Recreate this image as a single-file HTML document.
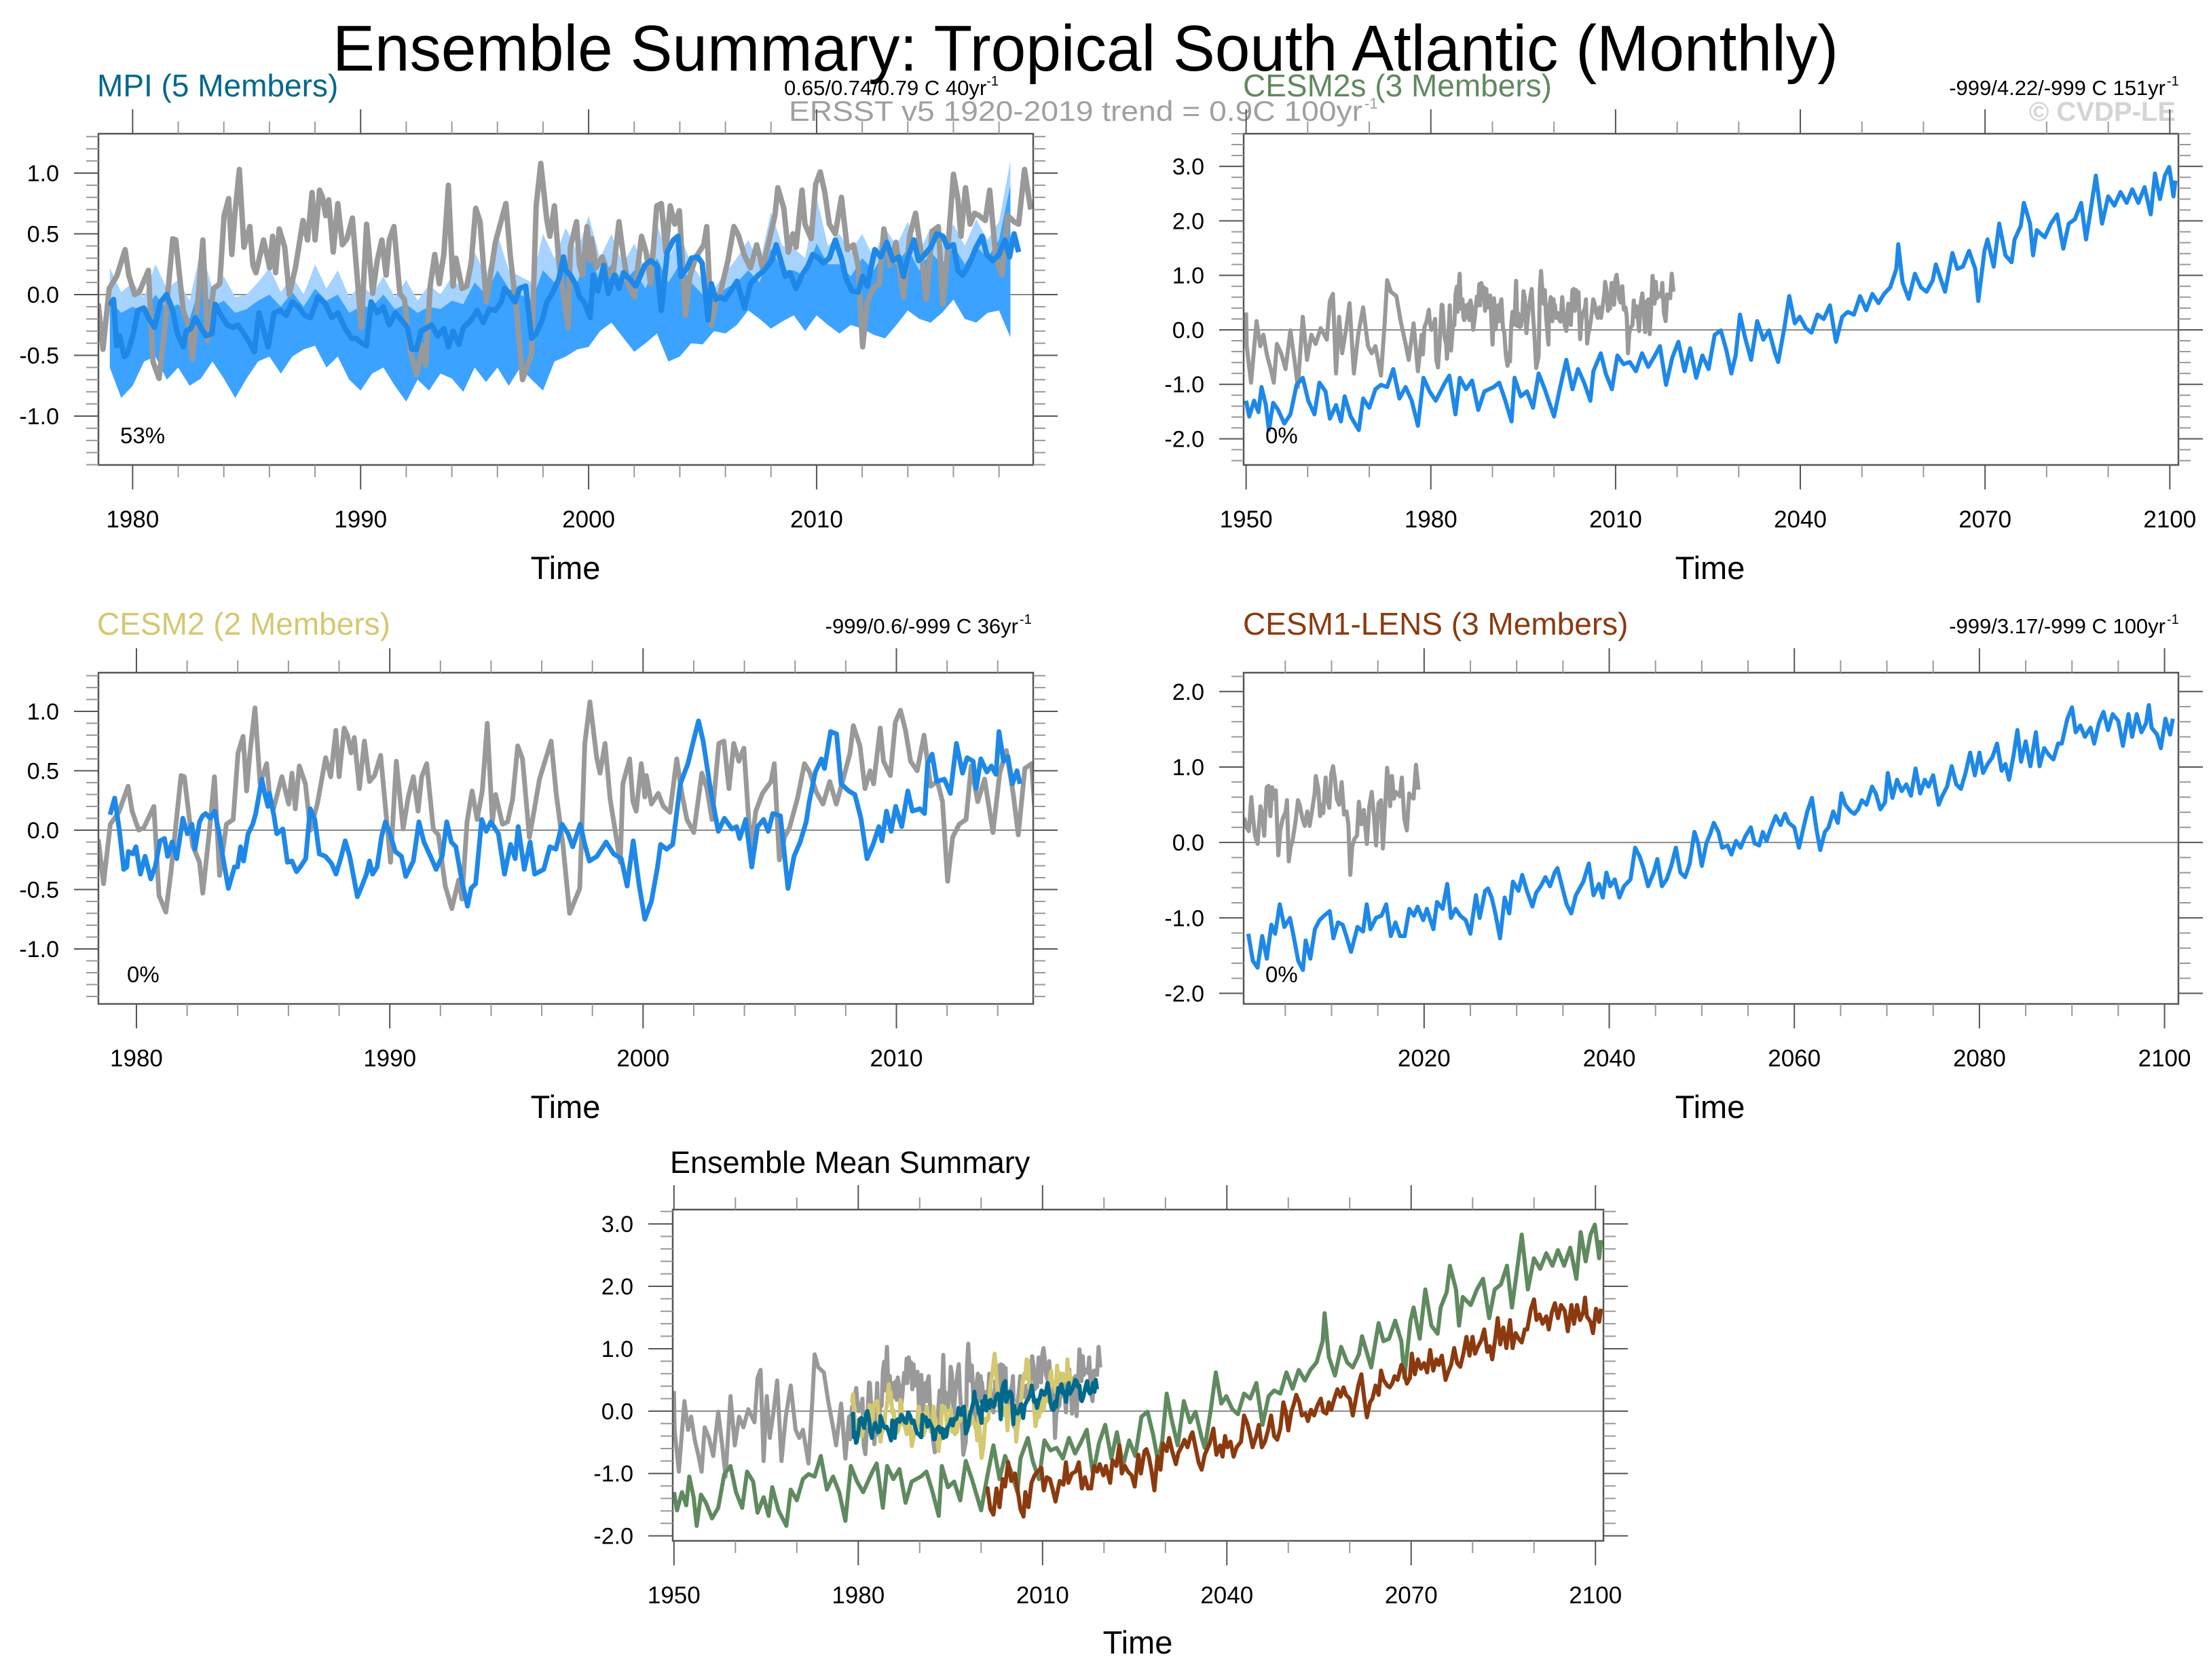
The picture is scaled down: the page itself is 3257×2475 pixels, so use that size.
<!DOCTYPE html>
<html><head><meta charset="utf-8"><title>Ensemble Summary: Tropical South Atlantic (Monthly)</title>
<style>
html,body{margin:0;padding:0;background:#fff;}
svg{display:block;font-family:"Liberation Sans",Arial,sans-serif;}
</style></head>
<body>
<svg id="chart" xmlns="http://www.w3.org/2000/svg" width="3257" height="2475" viewBox="0 0 3257 2475">
<rect x="0" y="0" width="3257" height="2475" fill="#fff"/>
<text x="1599" y="104" font-size="96" text-anchor="middle" textLength="2218" lengthAdjust="spacingAndGlyphs" fill="#000">Ensemble Summary: Tropical South Atlantic (Monthly)</text>
<text x="143" y="142" font-size="46" fill="#00688b">MPI (5 Members)</text>
<text x="1155" y="140" font-size="31" fill="#000">0.65/0.74/0.79 C 40yr<tspan font-size="20" dy="-14">-1</tspan></text>
<text x="1162" y="178" font-size="42" fill="#a0a0a0" textLength="845" lengthAdjust="spacingAndGlyphs">ERSST v5 1920-2019 trend = 0.9C 100yr</text>
<text x="2010" y="160" font-size="22" fill="#a0a0a0">-1</text>
<text x="1831" y="142" font-size="46" fill="#5f8a5f">CESM2s (3 Members)</text>
<text x="3190" y="140" font-size="31" text-anchor="end" fill="#000">-999/4.22/-999 C 151yr</text>
<text x="3192" y="126" font-size="20" fill="#000">-1</text>
<text x="3205" y="178" font-size="40" font-weight="bold" text-anchor="end" fill="#d4d4d4">© CVDP-LE</text>
<text x="143" y="935" font-size="46" fill="#d4c870">CESM2 (2 Members)</text>
<text x="1500" y="933" font-size="31" text-anchor="end" fill="#000">-999/0.6/-999 C 36yr</text>
<text x="1502" y="919" font-size="20" fill="#000">-1</text>
<text x="1831" y="935" font-size="46" fill="#8b3a0f">CESM1-LENS (3 Members)</text>
<text x="3190" y="933" font-size="31" text-anchor="end" fill="#000">-999/3.17/-999 C 100yr</text>
<text x="3192" y="919" font-size="20" fill="#000">-1</text>
<text x="987" y="1728" font-size="45" fill="#000">Ensemble Mean Summary</text>
</svg>
<script>
// ---------- DATA ----------
const obsYear = [1950.0,1950.1,1950.8,1951.7,1952.3,1952.8,1953.4,1954.0,1954.5,1955.0,1955.7,1956.4,1957.2,1957.9,1958.4,1959.2,1959.9,1960.6,1961.3,1962.1,1963.1,1963.6,1964.1,1964.6,1965.1,1965.6,1966.2,1966.8,1967.5,1968.2,1969.0,1969.8,1970.4,1971.0,1971.9,1972.5,1972.9,1973.5,1974.4,1975.1,1975.9,1976.4,1977.2,1977.9,
1978.50,1978.70,1978.97,1979.30,1979.67,1979.83,1980.09,1980.29,1980.69,1980.89,1981.16,1981.36,1981.76,1981.89,1982.22,1982.49,1982.62,1982.89,1983.08,1983.28,1983.55,1983.82,1984.01,1984.21,1984.35,1984.48,1984.68,1984.88,1985.14,1985.28,1985.41,1985.74,1986.01,1986.14,1986.27,1986.43,1986.67,1986.87,1987.14,1987.47,1987.67,1987.87,1988.00,1988.20,1988.33,1988.47,1988.60,1988.80,1989.00,1989.20,1989.40,1989.64,1990.03,1990.26,1990.53,1990.73,1990.93,1991.12,1991.26,1991.46,1991.72,1991.92,1992.19,1992.45,1992.72,1992.85,1993.05,1993.25,1993.45,1993.65,1993.85,1994.05,1994.18,1994.45,1994.65,1994.85,1995.05,1995.24,1995.51,1995.64,1995.91,1996.37,1996.57,1996.84,1997.10,1997.50,1997.70,1997.90,1998.17,1998.30,1998.50,1998.70,1999.10,
1999.20,1999.47,1999.60,1999.73,1999.93,2000.07,2000.13,2000.33,2000.60,2000.80,2001.06,2001.33,2001.53,2001.73,2002.00,2002.32,2002.52,2002.72,2002.99,2003.19,2003.39,2003.58,2003.78,2003.98,2004.25,2004.45,2004.71,2005.05,2005.18,2005.38,2005.58,2005.78,2006.11,2006.37,2006.57,2006.84,2007.10,2007.37,2007.63,2007.90,2008.17,2008.30,2008.56,2008.76,2008.96,2009.10,2009.36,2009.49,2009.76,2009.96,2010.16,2010.36,2010.56,2010.82,2011.09,2011.35,2011.62,2011.82,2012.02,2012.22,2012.48,2012.75,2012.95,2013.21,2013.48,2013.81,2014.08,2014.34,2014.61,2014.81,2015.07,2015.34,2015.54,2015.74,2016.00,2016.20,2016.33,2016.53,2016.73,2016.93,2017.13,2017.40,2017.59,2017.86,2018.13,2018.39,2018.66,2018.86,2019.12,2019.39];
const obsVal = [0.32,-0.30,-0.97,0.16,-0.30,-0.09,-0.47,-0.72,-0.97,-0.26,-0.43,-0.72,-0.01,-0.59,-1.05,0.24,-0.55,-0.09,-0.26,0.03,-0.18,0.53,0.66,-0.80,0.24,-0.43,-0.01,0.49,-0.80,-0.09,0.41,-0.30,-0.43,-0.30,-0.84,0.12,0.91,0.70,0.62,0.16,-0.26,-0.55,0.12,-0.76,
-0.09,-0.45,0.05,0.15,0.37,0.16,0.00,0.02,0.20,-0.55,-0.69,-0.36,0.46,0.45,-0.13,-0.27,-0.53,0.01,0.45,-0.38,0.05,0.09,0.65,0.79,0.33,0.65,1.03,0.39,0.56,0.24,0.18,0.45,0.22,0.48,0.18,0.54,0.39,0.00,0.22,0.61,0.45,0.84,0.45,0.86,0.80,0.65,0.78,0.35,0.75,0.41,0.46,0.63,-0.27,0.58,0.01,0.28,0.45,0.16,0.45,0.56,0.01,-0.04,-0.47,-0.66,-0.42,-0.58,0.07,0.33,0.09,0.33,0.90,0.07,0.30,0.05,0.07,0.26,0.71,0.60,-0.06,0.09,0.43,0.75,0.31,-0.13,-0.70,-0.49,0.73,1.08,0.61,0.48,0.73,0.26,-0.27,
0.39,0.60,0.24,0.16,0.56,0.28,0.46,0.22,0.31,0.20,0.15,0.60,0.31,0.09,-0.02,0.48,0.35,0.09,0.73,0.75,0.35,0.73,0.58,0.69,-0.17,0.16,0.31,0.41,0.56,-0.25,-0.06,0.02,0.28,0.56,0.49,0.32,0.22,0.41,0.22,0.43,0.65,0.88,0.71,0.35,0.50,0.39,0.86,0.58,0.46,0.91,1.01,0.84,0.58,0.50,0.80,0.37,0.41,0.24,-0.43,-0.06,0.05,0.09,0.54,0.24,0.43,-0.02,0.48,0.67,0.31,-0.04,0.52,0.56,-0.08,0.34,0.99,0.78,0.48,0.88,0.58,0.67,0.65,0.61,0.86,0.31,0.16,0.65,0.60,0.58,1.03,0.70];

const mpiYear = [1979.00,1979.16,1979.30,1979.43,1979.63,1979.76,1980.03,1980.23,1980.49,1980.69,1980.96,1981.23,1981.49,1981.76,1981.96,1982.22,1982.35,1982.55,1982.75,1983.02,1983.22,1983.48,1983.62,1983.88,1984.15,1984.41,1984.61,1984.88,1985.14,1985.34,1985.54,1985.94,1986.21,1986.47,1986.74,1987.00,1987.27,1987.54,1987.80,1988.13,1988.47,1988.73,1989.00,1989.33,1989.60,1989.80,1990.06,1990.26,1990.46,1990.73,1990.99,1991.26,1991.52,1991.79,1992.05,1992.25,1992.45,1992.65,1992.85,1993.12,1993.38,1993.65,1993.85,1994.05,1994.31,1994.51,1994.85,1995.11,1995.38,1995.64,1995.91,1996.17,1996.31,1996.51,1996.77,1996.97,1997.24,1997.50,1997.70,1997.97,1998.17,1998.43,1998.70,1998.90,
1999.00,1999.20,1999.47,1999.60,1999.80,2000.07,2000.20,2000.40,2000.66,2000.86,2001.13,2001.33,2001.53,2001.79,2002.06,2002.26,2002.46,2002.72,2002.99,2003.19,2003.45,2003.72,2003.92,2004.05,2004.32,2004.51,2004.78,2004.98,2005.24,2005.38,2005.58,2005.78,2005.97,2006.24,2006.51,2006.84,2007.10,2007.44,2007.70,2008.03,2008.23,2008.43,2008.63,2008.83,2009.10,2009.36,2009.63,2009.83,2010.09,2010.29,2010.56,2010.82,2011.09,2011.29,2011.55,2011.82,2012.02,2012.22,2012.55,2012.81,2013.08,2013.35,2013.61,2013.81,2014.01,2014.27,2014.47,2014.74,2015.01,2015.27,2015.54,2015.74,2016.00,2016.20,2016.40,2016.67,2017.00,2017.26,2017.46,2017.73,2018.00,2018.26,2018.46,2018.66,2018.86];
const mpiMean = [-0.09,-0.04,-0.42,-0.34,-0.51,-0.49,-0.32,-0.13,-0.11,-0.19,-0.27,-0.06,0.00,-0.13,-0.32,-0.43,-0.30,-0.28,-0.19,-0.28,-0.34,-0.32,-0.08,-0.17,-0.25,-0.27,-0.25,-0.32,-0.40,-0.47,-0.15,-0.43,-0.15,-0.13,-0.17,-0.06,-0.10,-0.17,-0.19,-0.02,-0.08,-0.19,-0.15,-0.28,-0.36,-0.36,-0.40,-0.42,-0.06,-0.15,-0.10,-0.25,-0.15,-0.21,-0.27,-0.45,-0.45,-0.30,-0.28,-0.25,-0.34,-0.28,-0.43,-0.30,-0.41,-0.27,-0.21,-0.13,-0.23,-0.12,-0.13,-0.06,0.05,0.01,-0.06,0.05,0.07,-0.36,-0.32,-0.21,-0.06,0.02,0.13,0.31,
0.20,0.16,0.07,-0.02,-0.06,-0.19,0.16,0.03,0.24,0.01,0.16,0.05,0.18,0.13,0.07,0.15,0.24,0.28,0.24,-0.13,0.35,0.45,0.48,0.15,0.22,0.30,0.31,0.26,-0.21,0.09,-0.04,-0.02,-0.04,0.03,0.11,-0.11,0.09,0.16,0.20,0.28,0.41,0.28,0.15,0.18,0.05,0.16,0.24,0.33,0.30,0.26,0.30,0.45,0.30,0.13,0.03,0.02,0.15,0.07,0.37,0.31,0.43,0.28,0.31,0.15,0.31,0.45,0.28,0.33,0.39,0.50,0.48,0.39,0.41,0.20,0.16,0.24,0.39,0.48,0.33,0.28,0.33,0.45,0.31,0.50,0.35];
const mpiBandYear = [1979,1979.5,1980,1980.5,1981,1981.5,1982,1982.5,1983,1983.5,1984,1984.5,1985,1985.5,1986,1986.5,1987,1987.5,1988,1988.5,1989,1989.5,1990,1990.5,1991,1991.5,1992,1992.5,1993,1993.5,1994,1994.5,1995,1995.5,1996,1996.5,1997,1997.5,1998,1998.5,1999,1999.5,2000,2000.5,2001,2001.5,2002,2002.5,2003,2003.5,2004,2004.5,2005,2005.5,2006,2006.5,2007,2007.5,2008,2008.5,2009,2009.5,2010,2010.5,2011,2011.5,2012,2012.5,2013,2013.5,2014,2014.5,2015,2015.5,2016,2016.5,2017,2017.5,2018,2018.5];
const mpiMax = [0.22,0.02,0.10,-0.02,0.25,0.05,0.12,-0.05,0.38,0.05,0.15,-0.02,0.0,0.10,0.22,0.02,0.15,0.00,0.25,0.05,0.20,-0.02,0.08,0.00,0.15,-0.02,0.12,-0.05,0.08,0.00,0.15,0.02,0.35,0.15,0.50,0.20,0.15,0.10,0.50,0.30,0.55,0.35,0.65,0.30,0.50,0.25,0.42,0.20,0.58,0.30,0.50,0.25,0.12,0.05,0.18,0.30,0.45,0.25,0.68,0.40,0.38,0.30,0.80,0.40,0.50,0.35,0.50,0.30,0.55,0.40,0.60,0.35,0.55,0.40,0.58,0.40,0.62,0.45,0.60,1.10];
const mpiMidTop = [-0.05,-0.15,-0.10,-0.15,0.00,-0.12,-0.08,-0.20,0.10,-0.10,-0.05,-0.15,-0.12,-0.05,0.00,-0.10,0.02,-0.10,0.05,-0.05,0.00,-0.15,-0.10,-0.10,0.00,-0.12,-0.08,-0.15,-0.10,-0.12,-0.05,-0.08,0.10,0.00,0.20,0.05,0.00,-0.05,0.20,0.10,0.25,0.10,0.35,0.10,0.25,0.10,0.20,0.05,0.30,0.10,0.25,0.10,0.00,-0.05,0.05,0.10,0.20,0.10,0.38,0.20,0.20,0.15,0.42,0.25,0.25,0.15,0.30,0.20,0.35,0.25,0.38,0.20,0.35,0.25,0.40,0.25,0.40,0.30,0.45,0.90];
const mpiMin = [-0.60,-0.85,-0.75,-0.55,-0.51,-0.70,-0.60,-0.75,-0.69,-0.55,-0.69,-0.85,-0.69,-0.55,-0.51,-0.65,-0.51,-0.45,-0.42,-0.60,-0.51,-0.70,-0.79,-0.65,-0.60,-0.75,-0.88,-0.70,-0.79,-0.65,-0.69,-0.80,-0.60,-0.72,-0.60,-0.75,-0.60,-0.70,-0.79,-0.55,-0.51,-0.45,-0.43,-0.30,-0.23,-0.35,-0.47,-0.40,-0.32,-0.55,-0.51,-0.40,-0.41,-0.30,-0.32,-0.25,-0.13,-0.20,-0.28,-0.22,-0.17,-0.30,-0.17,-0.25,-0.32,-0.25,-0.28,-0.33,-0.36,-0.25,-0.13,-0.20,-0.23,-0.15,-0.04,-0.20,-0.23,-0.15,-0.13,-0.35];

const cesm2Year = [1978.96,1979.14,1979.32,1979.50,1979.62,1979.68,1979.86,1979.98,1980.16,1980.34,1980.57,1980.75,1980.93,1981.11,1981.23,1981.41,1981.59,1981.83,1982.01,1982.19,1982.31,1982.49,1982.61,1982.73,1982.91,1983.09,1983.27,1983.39,1983.63,1983.87,1983.99,1984.11,1984.23,1984.41,1984.59,1984.71,1984.95,1985.07,1985.19,1985.25,1985.43,1985.54,1985.78,1985.96,1986.14,1986.32,1986.50,1986.68,1986.86,1987.04,1987.22,1987.46,1987.70,1987.88,1988.06,1988.24,1988.42,1988.72,1988.90,1989.08,1989.20,1989.32,1989.50,1989.68,1989.83,1989.98,1990.22,1990.46,1990.63,1990.93,1991.15,1991.35,1991.65,1991.83,1992.07,1992.25,1992.43,1992.61,1992.85,1993.07,1993.21,1993.39,1993.63,1993.81,1993.99,1994.29,1994.53,1994.77,1994.95,1995.07,1995.31,1995.54,1995.72,1996.08,1996.32,1996.56,1996.80,
1997.04,1997.22,1997.52,1997.70,1997.88,1998.18,1998.54,1998.84,1999.14,1999.37,1999.61,1999.85,2000.07,2000.33,2000.57,2000.69,2000.93,2001.17,2001.47,2001.77,2002.01,2002.19,2002.37,2002.67,2002.97,2003.21,2003.51,2003.69,2003.81,2004.05,2004.29,2004.52,2004.76,2004.94,2005.12,2005.42,2005.72,2005.96,2006.20,2006.44,2006.56,2006.80,2007.04,2007.16,2007.40,2007.64,2007.82,2008.12,2008.36,2008.60,2008.84,2009.08,2009.31,2009.43,2009.61,2009.79,2009.97,2010.21,2010.45,2010.63,2010.93,2011.11,2011.23,2011.41,2011.59,2011.89,2012.13,2012.37,2012.61,2012.79,2013.03,2013.15,2013.33,2013.57,2013.75,2013.93,2014.05,2014.23,2014.40,2014.58,2014.76,2014.88];
const cesm2Val = [0.13,0.27,0.01,-0.33,-0.31,-0.18,-0.20,-0.14,-0.37,-0.22,-0.41,-0.30,-0.09,-0.07,-0.22,-0.10,-0.24,0.10,-0.03,0.05,-0.16,0.07,0.12,0.14,0.10,0.16,-0.03,-0.20,-0.49,-0.31,-0.31,-0.14,-0.26,-0.03,0.05,0.14,0.43,0.30,0.20,0.31,0.12,-0.03,0.01,-0.27,-0.26,-0.35,-0.30,-0.24,0.18,0.09,-0.20,-0.22,-0.28,-0.37,-0.24,-0.09,-0.22,-0.56,-0.47,-0.37,-0.26,-0.37,-0.31,-0.05,0.07,-0.01,-0.18,-0.22,-0.39,-0.26,0.07,-0.10,-0.24,-0.33,-0.22,0.07,-0.10,-0.14,-0.43,-0.64,-0.49,-0.45,0.09,-0.01,0.07,-0.03,-0.37,-0.12,-0.24,0.03,-0.33,-0.10,-0.37,-0.33,-0.14,-0.16,0.05,
-0.03,-0.14,0.05,-0.12,-0.26,-0.22,-0.10,-0.20,-0.24,-0.47,-0.09,-0.47,-0.75,-0.60,-0.31,-0.12,-0.16,-0.12,0.39,0.56,0.77,0.92,0.75,0.33,-0.01,0.10,0.01,0.03,-0.07,0.09,-0.31,0.03,0.09,-0.01,0.14,0.12,-0.49,-0.22,-0.10,0.07,0.24,0.49,0.60,0.52,0.83,0.81,0.39,0.33,0.30,0.10,-0.24,-0.12,0.03,-0.09,0.16,-0.01,0.20,0.03,0.33,0.16,0.18,0.14,0.56,0.64,0.41,0.43,0.31,0.73,0.48,0.61,0.58,0.35,0.60,0.49,0.54,0.47,0.83,0.58,0.62,0.39,0.50,0.39];

const cesm2sYear = [1950.0,1950.5,1951.3,1952.0,1952.5,1953.2,1953.7,1954.4,1955.2,1956.2,1957.2,1958.2,1959.2,1960.1,1961.1,1961.9,1962.9,1963.6,1964.6,1965.4,1966.0,1967.0,1968.3,1969.0,1970.0,1971.0,1971.9,1972.9,1973.9,1974.9,1975.9,1976.9,1977.9,1978.8,1979.8,1980.8,1982.3,1983.0,1984.0,1984.7,1985.7,1986.7,1987.7,1988.7,1990.2,1991.1,1992.1,1993.1,1993.6,1994.6,1995.6,1996.6,1997.5,1998.5,2000.0,2001.0,2002.0,2003.0,2003.9,2004.9,2005.9,2006.4,2007.6,2008.4,2009.4,2010.3,2011.3,2012.3,2013.3,2014.3,2015.3,2016.2,2017.2,2018.2,2019.2,2020.2,2021.2,2022.1,2023.1,2024.1,2025.1,2026.1,2027.1,2028.0,2028.8,2029.5,2030.2,2031.0,2032.0,2033.0,2034.0,2034.9,2035.9,2036.4,2037.4,2038.2,2039.1,2039.9,2040.9,2041.8,2042.8,2043.8,2044.8,2045.8,2046.8,2047.7,2048.7,2049.7,2050.7,2051.7,2052.7,2053.6,2054.6,2055.6,2055.9,2056.6,2057.6,2058.6,2059.6,2060.5,2061.5,2062.0,2063.5,2064.7,2065.5,2066.4,2067.4,2068.4,2068.9,2069.9,2070.4,2071.4,2072.3,2073.3,2074.3,2074.8,2075.8,2076.3,2077.3,2077.8,2078.4,2079.7,2080.7,2081.7,2082.7,2083.6,2084.6,2085.6,2086.4,2087.1,2088.0,2089.0,2090.0,2091.0,2092.0,2093.0,2093.9,2094.9,2095.9,2096.9,2097.6,2098.4,2099.2,2099.9,2100.6,2100.9];
const cesm2sVal = [-1.30,-1.59,-1.30,-1.51,-1.05,-1.38,-1.84,-1.34,-1.47,-1.72,-1.55,-1.01,-0.88,-1.30,-1.55,-0.97,-1.13,-1.63,-1.38,-1.68,-1.22,-1.59,-1.84,-1.26,-1.43,-1.09,-1.01,-1.05,-0.72,-1.26,-1.05,-1.30,-1.76,-0.88,-1.13,-1.30,-0.97,-0.84,-1.55,-0.88,-1.09,-0.93,-1.47,-1.13,-1.05,-0.97,-1.30,-1.68,-0.88,-1.22,-1.13,-1.43,-0.80,-1.09,-1.59,-1.05,-0.55,-1.09,-0.72,-0.97,-1.30,-0.76,-0.43,-0.80,-1.09,-0.47,-0.63,-0.59,-0.76,-0.43,-0.68,-0.51,-0.30,-1.01,-0.51,-0.22,-0.76,-0.34,-0.88,-0.47,-0.72,-0.09,-0.01,-0.38,-0.80,-0.47,0.28,-0.13,-0.55,0.16,-0.18,-0.01,-0.43,-0.59,0.03,0.62,0.12,0.24,0.03,-0.05,0.28,0.20,0.45,-0.22,0.24,0.33,0.28,0.62,0.36,0.66,0.49,0.66,0.78,1.12,1.57,0.87,0.57,1.03,0.78,0.70,0.91,1.20,0.70,1.41,1.12,1.16,1.45,1.12,0.53,1.45,1.66,1.16,1.95,1.37,1.24,1.66,1.91,2.33,1.95,1.37,1.83,1.70,1.95,2.12,1.49,1.95,2.03,2.33,1.66,2.16,2.83,1.95,2.45,2.28,2.53,2.33,2.58,2.33,2.62,2.12,2.87,2.40,2.83,2.99,2.45,2.74];

const lensYear = [2001.0,2001.5,2002.0,2002.5,2003.0,2003.5,2003.9,2004.4,2004.9,2005.5,2005.9,2006.4,2006.9,2007.2,2007.7,2008.2,2008.7,2009.2,2009.8,2010.2,2010.7,2011.2,2011.6,2012.1,2012.8,2013.4,2013.8,2014.2,2014.8,2015.4,2015.9,2016.4,2016.9,2017.4,2017.9,2018.4,2018.9,2019.3,2019.9,2020.3,2021.0,2021.4,2022.0,2022.5,2022.9,2023.4,2023.9,2024.5,2025.0,2025.6,2026.0,2026.6,2026.9,2027.3,2027.7,2028.2,2028.7,2029.2,2029.6,2030.2,2030.6,2031.1,2031.7,2032.1,2032.6,2033.1,2033.6,2034.1,2034.4,2034.9,2035.4,2035.9,2036.4,2036.8,2037.2,2037.8,2038.3,2038.9,2039.3,2039.7,2040.1,2040.6,2041.1,2041.6,2042.3,2042.8,2043.3,2043.7,2044.2,2044.8,2045.2,2045.7,2046.2,2046.7,2047.2,2047.7,2048.2,2048.7,2049.2,2049.6,2050.0,2050.5,2050.9,2051.3,2051.8,2052.2,2052.8,2053.2,2053.7,2054.2,2054.7,2055.3,2055.7,2056.2,2056.6,2057.0,2057.5,2058.0,2058.5,2059.0,2059.4,2060.0,2060.5,2061.0,2061.4,2061.9,2062.4,2062.8,2063.3,2063.7,2064.2,2064.7,2065.1,2065.5,2066.1,2066.5,2066.9,2067.3,2067.8,2068.4,2068.8,2069.3,2069.8,2070.1,2070.6,2071.1,2071.6,2072.1,2072.6,2073.1,2073.6,2074.1,2074.5,2075.0,2075.6,2076.0,2076.5,2077.0,2077.5,2078.0,2078.5,2079.0,2079.5,2080.0,2080.4,2080.9,2081.4,2081.9,2082.4,2082.8,2083.2,2083.7,2084.1,2084.5,2085.0,2085.5,2086.1,2086.5,2087.0,2087.5,2088.0,2088.5,2088.9,2089.5,2090.0,2090.4,2090.9,2091.4,2092.0,2092.4,2092.9,2093.4,2093.9,2094.4,2095.0,2095.5,2096.1,2096.5,2097.0,2097.5,2098.0,2098.3,2098.6,2099.2,2099.6,2100.1,2100.6,2100.9];
const lensVal = [-1.21,-1.57,-1.66,-1.24,-1.54,-1.09,-1.21,-0.82,-1.12,-1.00,-1.24,-1.57,-1.69,-1.30,-1.54,-1.15,-1.03,-0.97,-0.91,-1.27,-1.06,-1.09,-1.24,-1.45,-1.12,-1.18,-0.82,-1.15,-1.00,-0.97,-0.82,-1.24,-1.06,-1.24,-1.24,-0.88,-0.97,-0.85,-1.03,-0.88,-1.15,-0.79,-0.88,-0.55,-1.00,-0.88,-0.97,-1.03,-1.21,-0.70,-1.00,-0.64,-0.61,-0.73,-0.94,-1.27,-0.73,-0.94,-0.52,-0.64,-0.43,-0.64,-0.85,-0.67,-0.58,-0.46,-0.58,-0.40,-0.34,-0.58,-0.82,-0.94,-0.70,-0.61,-0.52,-0.28,-0.70,-0.55,-0.73,-0.40,-0.58,-0.49,-0.73,-0.58,-0.49,-0.07,-0.19,-0.34,-0.58,-0.40,-0.22,-0.58,-0.49,-0.31,-0.07,-0.40,-0.46,-0.28,0.14,-0.01,-0.31,-0.01,0.11,0.26,0.14,-0.07,-0.04,-0.16,0.02,-0.07,0.08,0.20,-0.01,-0.04,0.14,0.02,0.20,0.35,0.23,0.38,0.26,0.20,-0.07,0.20,0.41,0.59,0.17,-0.10,0.14,0.20,0.41,0.26,0.65,0.50,0.41,0.38,0.44,0.56,0.50,0.74,0.65,0.44,0.53,0.92,0.59,0.83,0.68,0.77,0.62,0.98,0.65,0.83,0.74,0.89,0.50,0.62,0.74,1.01,0.77,0.71,0.92,1.19,0.89,1.19,0.92,1.04,1.13,1.31,0.95,1.04,0.83,1.16,1.49,1.07,1.34,1.01,1.46,1.01,1.25,1.16,1.10,1.31,1.31,1.64,1.79,1.46,1.55,1.40,1.52,1.31,1.58,1.73,1.49,1.70,1.61,1.28,1.70,1.40,1.70,1.46,1.58,1.82,1.52,1.43,1.25,1.64,1.43,1.64];

// ---------- DRAWING ----------
const NS = 'http://www.w3.org/2000/svg';
const svg = document.getElementById('chart');
function mk(tag, parent) { const e = document.createElementNS(NS, tag); parent.appendChild(e); return e; }

const panels = [
 {key:'mpi', x0:145, x1:1522, y0:197, y1:685, xd:[1978.5,2019.5], yd:[-1.402,1.324], xMaj:10, xMin:2, xStart:1980, yMaj:0.5, yMin:0.1, pct:'53%', timeX:833, timeY:853},
 {key:'cesm2s', x0:1832, x1:3209, y0:197, y1:685, xd:[1949.6,2101.4], yd:[-2.48,3.60], xMaj:30, xMin:10, xStart:1950, yMaj:1, yMin:0.2, pct:'0%', timeX:2519, timeY:853},
 {key:'cesm2', x0:145, x1:1522, y0:991, y1:1479, xd:[1978.5,2015.4], yd:[-1.463,1.326], xMaj:10, xMin:2, xStart:1980, yMaj:0.5, yMin:0.1, pct:'0%', timeX:833, timeY:1647},
 {key:'cesm1-lens', x0:1832, x1:3209, y0:991, y1:1479, xd:[2000.5,2101.5], yd:[-2.14,2.25], xMaj:20, xMin:5, xStart:2020, yMaj:1, yMin:0.2, pct:'0%', timeX:2519, timeY:1647},
 {key:'ensemble-mean', x0:991, x1:2362, y0:1782, y1:2270, xd:[1949.8,2101.3], yd:[-2.08,3.23], xMaj:30, xMin:10, xStart:1950, yMaj:1, yMin:0.2, pct:null, timeX:1676, timeY:2436}
];

function sx(p, v) { return p.x0 + (v - p.xd[0]) / (p.xd[1] - p.xd[0]) * (p.x1 - p.x0); }
function sy(p, v) { return p.y1 - (v - p.yd[0]) / (p.yd[1] - p.yd[0]) * (p.y1 - p.y0); }

function drawAxes(p, g) {
  const ax = mk('g', g);
  
  
  const eps = 1e-6;
  for (let v = Math.ceil((p.yd[0] - eps) / p.yMin) * p.yMin; v <= p.yd[1] + eps; v += p.yMin) {
    const vv = Math.round(v * 100) / 100;
    const isMaj = Math.abs(vv / p.yMaj - Math.round(vv / p.yMaj)) < 1e-6;
    const len = isMaj ? 36 : 18;
    const y = sy(p, vv);
    for (const side of [0, 1]) {
      const t = mk('line', ax);
      
      
      const xb = side ? p.x1 : p.x0;
      t.setAttribute('x1', xb); t.setAttribute('x2', side ? xb + len : xb - len);
      t.setAttribute('y1', y); t.setAttribute('y2', y);
      t.setAttribute('stroke', isMaj ? '#555' : '#999'); t.setAttribute('stroke-width', 2);
    }
    if (isMaj) {
      const lab = mk('text', ax);
      
      
      lab.setAttribute('x', p.x0 - 58); lab.setAttribute('y', y + 12);
      lab.setAttribute('font-size', 34); lab.setAttribute('text-anchor', 'end');
      lab.textContent = vv.toFixed(1);
    }
  }
  const start = p.xStart - Math.floor((p.xStart - p.xd[0]) / p.xMin) * p.xMin;
  for (let v = start; v <= p.xd[1] + eps; v += p.xMin) {
    const isMaj = ((v - p.xStart) % p.xMaj + p.xMaj) % p.xMaj === 0;
    const len = isMaj ? 36 : 18;
    const x = sx(p, v);
    for (const side of [0, 1]) {
      const t = mk('line', ax);
      
      
      const yb = side ? p.y0 : p.y1;
      t.setAttribute('x1', x); t.setAttribute('x2', x);
      t.setAttribute('y1', yb); t.setAttribute('y2', side ? yb - len : yb + len);
      t.setAttribute('stroke', isMaj ? '#555' : '#999'); t.setAttribute('stroke-width', 2);
    }
    if (isMaj) {
      const lab = mk('text', ax);
      
      
      lab.setAttribute('x', x); lab.setAttribute('y', p.y1 + 92);
      lab.setAttribute('font-size', 35); lab.setAttribute('text-anchor', 'middle');
      lab.textContent = String(v);
    }
  }
  const tl = mk('text', ax);
  
  
  tl.setAttribute('x', p.timeX); tl.setAttribute('y', p.timeY);
  tl.setAttribute('font-size', 47); tl.setAttribute('text-anchor', 'middle');
  tl.textContent = 'Time';
}

function linePath(p, xs, ys) {
  let d = '';
  for (let i = 0; i < xs.length; i++) d += (i ? 'L' : 'M') + sx(p, xs[i]).toFixed(1) + ' ' + sy(p, ys[i]).toFixed(1);
  return d;
}
function bandPath(p, xs, hi, lo) {
  let d = '';
  for (let i = 0; i < xs.length; i++) d += (i ? 'L' : 'M') + sx(p, xs[i]).toFixed(1) + ' ' + sy(p, hi[i]).toFixed(1);
  for (let i = xs.length - 1; i >= 0; i--) d += 'L' + sx(p, xs[i]).toFixed(1) + ' ' + sy(p, lo[i]).toFixed(1);
  return d + 'Z';
}

function drawPanel(p, series) {
  const g = mk('g', svg);
  
  
  const cp = mk('clipPath', g);
  cp.setAttribute('id', 'clip-' + p.key);
  const cr = mk('rect', cp);
  cr.setAttribute('x', p.x0); cr.setAttribute('y', p.y0);
  cr.setAttribute('width', p.x1 - p.x0); cr.setAttribute('height', p.y1 - p.y0);
  const plot = mk('g', g);
  
  
  plot.setAttribute('clip-path', 'url(#clip-' + p.key + ')');
  const zl = mk('line', plot);
  
  
  zl.setAttribute('x1', p.x0); zl.setAttribute('x2', p.x1);
  zl.setAttribute('y1', sy(p, 0)); zl.setAttribute('y2', sy(p, 0));
  zl.setAttribute('stroke', '#8a8a8a'); zl.setAttribute('stroke-width', 2);
  for (const s of series) {
    const e = mk('path', plot);
    
    
    if (s.band) {
      e.setAttribute('d', bandPath(p, s.x, s.hi, s.lo));
      e.setAttribute('fill', s.color);
    } else {
      e.setAttribute('d', linePath(p, s.x, s.y));
      e.setAttribute('fill', 'none');
      e.setAttribute('stroke', s.color);
      e.setAttribute('stroke-width', s.w || 6);
      e.setAttribute('stroke-linejoin', 'round');
    }
  }
  const fr = mk('rect', g);
  
  
  fr.setAttribute('x', p.x0); fr.setAttribute('y', p.y0);
  fr.setAttribute('width', p.x1 - p.x0); fr.setAttribute('height', p.y1 - p.y0);
  fr.setAttribute('fill', 'none'); fr.setAttribute('stroke', '#555'); fr.setAttribute('stroke-width', 2.5);
  drawAxes(p, g);
  if (p.pct) {
    const t = mk('text', g);
    
    
    t.setAttribute('x', p.key === 'cesm2' ? 187 : (p.x0 + 32)); t.setAttribute('y', p.y1 - 32);
    t.setAttribute('font-size', 33);
    t.textContent = p.pct;
  }
}

const BLUE = '#1e88e8', GRAY = '#999999';
drawPanel(panels[0], [
  {name:'mpi-range-band', band:true, x:mpiBandYear, hi:mpiMax, lo:mpiMin, color:'#a6d3ff'},
  {name:'mpi-inner-band', band:true, x:mpiBandYear, hi:mpiMidTop, lo:mpiMin, color:'#3ca2ff'},
  {name:'mpi-obs-line', x:obsYear, y:obsVal, color:GRAY, w:8},
  {name:'mpi-ensemble-mean-line', x:mpiYear, y:mpiMean, color:BLUE, w:8}
]);
drawPanel(panels[1], [
  {name:'cesm2s-obs-line', x:obsYear, y:obsVal, color:GRAY, w:6},
  {name:'cesm2s-ensemble-mean-line', x:cesm2sYear, y:cesm2sVal, color:BLUE, w:6}
]);
drawPanel(panels[2], [
  {name:'cesm2-obs-line', x:obsYear, y:obsVal, color:GRAY, w:7},
  {name:'cesm2-ensemble-mean-line', x:cesm2Year, y:cesm2Val, color:BLUE, w:7}
]);
drawPanel(panels[3], [
  {name:'cesm1-lens-obs-line', x:obsYear, y:obsVal, color:GRAY, w:6},
  {name:'cesm1-lens-ensemble-mean-line', x:lensYear, y:lensVal, color:BLUE, w:6}
]);
drawPanel(panels[4], [
  {name:'summary-obs-line', x:obsYear, y:obsVal, color:GRAY, w:6},
  {name:'summary-cesm2s-line', x:cesm2sYear, y:cesm2sVal, color:'#5f8a5f', w:6},
  {name:'summary-cesm1-lens-line', x:lensYear, y:lensVal, color:'#8b3a0f', w:6},
  {name:'summary-cesm2-line', x:cesm2Year, y:cesm2Val, color:'#d4c870', w:6},
  {name:'summary-mpi-line', x:mpiYear, y:mpiMean, color:'#00688b', w:6}
]);
</script>
</body></html>
